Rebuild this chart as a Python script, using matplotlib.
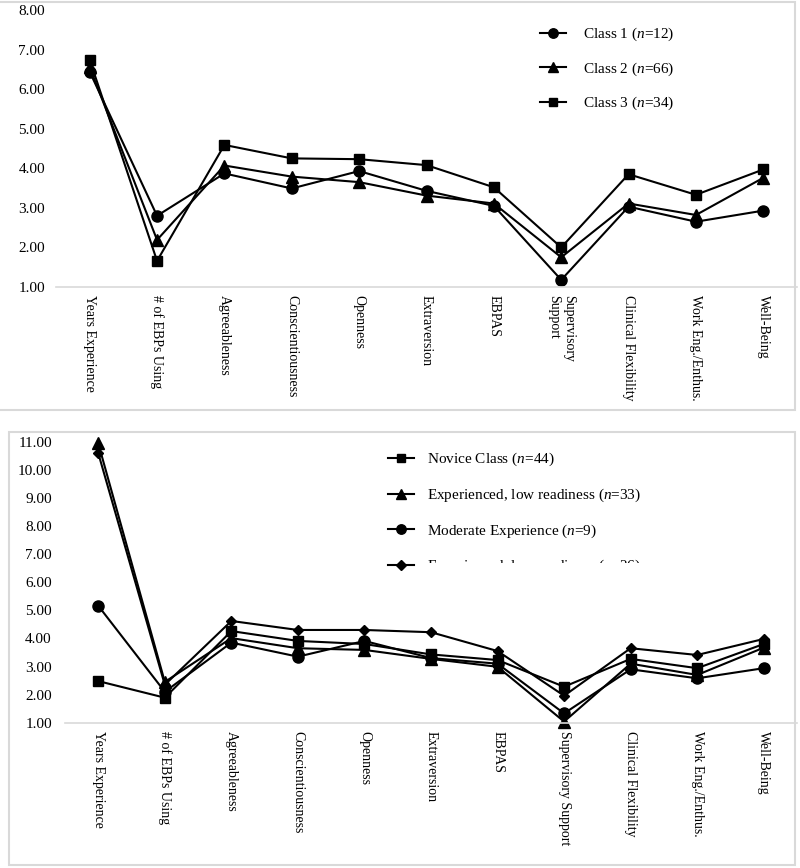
import matplotlib.pyplot as plt
import matplotlib.ticker as mticker
from matplotlib.patches import Rectangle

plt.rcParams['font.family'] = ['Liberation Serif', 'DejaVu Serif']
plt.rcParams['mathtext.fontset'] = 'custom'
plt.rcParams['mathtext.rm'] = 'Liberation Serif'
plt.rcParams['mathtext.it'] = 'Liberation Serif:italic'

W, H = 800, 868

top_labels = ["Years Experience", "# of EBPs Using", "Agreeableness", "Conscientiousness",
              "Openness", "Extraversion", "EBPAS", "Supervisory\nSupport",
              "Clinical Flexibility", "Work Eng./Enthus.", "Well-Being"]
bottom_labels = ["Years Experience", "# of EBPs Using", "Agreeableness", "Conscientiousness",
                 "Openness", "Extraversion", "EBPAS", "Supervisory Support",
                 "Clinical Flexibility", "Work Eng./Enthus.", "Well-Being"]

# top panel
class1 = [6.44, 2.80, 3.87, 3.49, 3.93, 3.43, 3.05, 1.18, 3.03, 2.65, 2.93]
class2 = [6.55, 2.19, 4.07, 3.79, 3.65, 3.31, 3.11, 1.75, 3.11, 2.82, 3.76]
class3 = [6.74, 1.66, 4.59, 4.25, 4.23, 4.08, 3.52, 2.00, 3.85, 3.33, 3.97]

# bottom panel
novice = [2.48, 1.89, 4.26, 3.91, 3.80, 3.43, 3.23, 2.28, 3.27, 2.94, 3.80]
exp_low33 = [10.94, 2.45, 4.01, 3.65, 3.59, 3.27, 2.99, 1.04, 3.10, 2.70, 3.67]
moderate = [5.16, 2.10, 3.85, 3.35, 3.91, 3.30, 3.10, 1.33, 2.90, 2.58, 2.94]
exp_low26 = [10.59, 2.35, 4.62, 4.30, 4.30, 4.22, 3.55, 1.96, 3.65, 3.41, 3.98]

fig = plt.figure(figsize=(W / 100, H / 100), dpi=100)


def px_axes(left, top, right, bottom):
    return fig.add_axes([left / W, 1 - bottom / H, (right - left) / W, (bottom - top) / H])


def frame(x0, y0, x1, y1):
    fig.add_artist(Rectangle((x0 / W, 1 - y1 / H), (x1 - x0) / W, (y1 - y0) / H,
                             transform=fig.transFigure, fill=False,
                             edgecolor='#d9d9d9', lw=1.5))


def style(ax, labels, ymin, ymax, ypad):
    for s in ['top', 'right', 'left']:
        ax.spines[s].set_visible(False)
    ax.spines['bottom'].set_color('#d9d9d9')
    ax.spines['bottom'].set_linewidth(1.2)
    ax.set_xlim(-0.5, len(labels) - 0.5)
    ax.set_ylim(ymin, ymax)
    ax.set_yticks(range(ymin, ymax + 1))
    ax.yaxis.set_major_formatter(mticker.FormatStrFormatter('%.2f'))
    ax.set_xticks(range(len(labels)))
    ax.set_xticklabels(labels, rotation=270, va='top', ha='center',
                       multialignment='left', fontsize=10)
    ax.tick_params(axis='both', length=0)
    ax.tick_params(axis='y', labelsize=11, pad=ypad)
    ax.tick_params(axis='x', pad=6)
    ax.patch.set_alpha(0)


kw = dict(color='black', lw=1.5, clip_on=False)

# --- top panel
frame(-2, 2, 795, 410)
ax1 = px_axes(56, 10, 797, 287)
x = range(len(top_labels))
ax1.plot(x, class1, marker='o', ms=8, label=r'Class 1 ($\mathit{n}$=12)', **kw)
ax1.plot(x, class2, marker='^', ms=8, label=r'Class 2 ($\mathit{n}$=66)', **kw)
ax1.plot(x, class3, marker='s', ms=7, label=r'Class 3 ($\mathit{n}$=34)', **kw)
style(ax1, top_labels, 1, 8, 8)
ax1.legend(loc='upper left', bbox_to_anchor=(540 / W, 1 - 26 / H),
           bbox_transform=fig.transFigure, frameon=False, fontsize=11,
           handlelength=1.7, handletextpad=1.1, labelspacing=1.12,
           borderpad=0, borderaxespad=0, markerscale=0.85)

# --- bottom panel
frame(9, 432, 795, 865)
ax2 = px_axes(65, 441.7, 797, 722.7)
x = range(len(bottom_labels))
ax2.plot(x, novice, marker='s', ms=7, label=r'Novice Class ($\mathit{n}$=44)', **kw)
ax2.plot(x, exp_low33, marker='^', ms=8, label=r'Experienced, low readiness ($\mathit{n}$=33)', **kw)
ax2.plot(x, moderate, marker='o', ms=8, label=r'Moderate Experience ($\mathit{n}$=9)', **kw)
ax2.plot(x, exp_low26, marker='D', ms=5.5, label=r'Experienced, low readiness ($\mathit{n}$=26)', **kw)
style(ax2, bottom_labels, 1, 11, 9.5)
ax2.legend(loc='upper left', bbox_to_anchor=(388 / W, 1 - 451 / H),
           bbox_transform=fig.transFigure, frameon=False, fontsize=11,
           handlelength=1.7, handletextpad=0.85, labelspacing=1.2,
           borderpad=0, borderaxespad=0, markerscale=0.85)

# the last legend entry is cut off in the original
fig.add_artist(Rectangle((418 / W, 1 - 600 / H), 300 / W, 37 / H,
                         transform=fig.transFigure, facecolor='white',
                         edgecolor='none', zorder=20))

fig.savefig('out.png', dpi=100, facecolor='white')
